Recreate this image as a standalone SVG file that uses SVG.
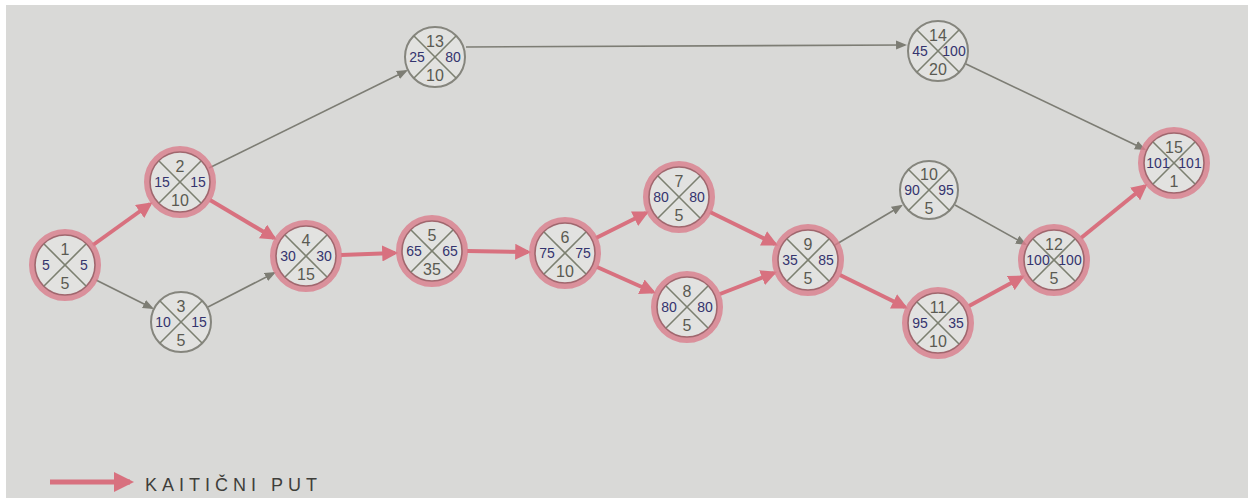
<svg xmlns="http://www.w3.org/2000/svg" width="1254" height="503" viewBox="0 0 1254 503">
<style>
.bg{fill:#d9d9d7}
.ring{fill:none;stroke:#d97d8c;stroke-width:6;opacity:.8}
.cc{fill:#e2e2e0;stroke:#a0676e;stroke-width:1.6}
.nc{fill:#e2e2e0;stroke:#85857d;stroke-width:2}
.x{stroke:#7c8070;stroke-width:1.6}
text{font-family:"Liberation Sans",Arial,sans-serif;text-anchor:middle}
.id{font-size:16px;fill:#5a5a52}
.lr{font-size:14px;fill:#34346e}
.bt{font-size:16px;fill:#5a5a52}
.crit{stroke:#d8717f;stroke-width:4;fill:none;marker-end:url(#ap)}
.norm{stroke:#7d7d74;stroke-width:1.6;fill:none;marker-end:url(#ag)}
.leg{font-size:18px;fill:#3e3e3a;text-anchor:start}
</style>
<defs>
<marker id="ap" viewBox="0 0 10 10" refX="8" refY="5" markerWidth="4" markerHeight="4" orient="auto" markerUnits="strokeWidth"><path d="M0,0 L10,5 L0,10 z" fill="#d8717f"/></marker>
<marker id="ag" viewBox="0 0 10 10" refX="8" refY="5" markerWidth="7" markerHeight="7" orient="auto" markerUnits="strokeWidth"><path d="M0,1 L10,5 L0,9 z" fill="#7d7d74"/></marker>
<g id="xc"><line class="x" x1="-21" y1="-21" x2="21" y2="21"/><line class="x" x1="21" y1="-21" x2="-21" y2="21"/></g>
</defs>
<rect x="0" y="0" width="1254" height="503" fill="#ffffff"/>
<rect class="bg" x="6" y="5" width="1242" height="493"/>

<g id="connectors">
<line class="crit" x1="93" y1="245" x2="150" y2="204"/>
<line class="crit" x1="210" y1="200" x2="274" y2="238"/>
<line class="crit" x1="341" y1="255" x2="395" y2="253"/>
<line class="crit" x1="467" y1="251" x2="528" y2="252"/>
<line class="crit" x1="596" y1="238" x2="646" y2="213"/>
<line class="crit" x1="597" y1="267" x2="653" y2="292"/>
<line class="crit" x1="710" y1="212" x2="775" y2="244"/>
<line class="crit" x1="720" y1="294" x2="774" y2="273"/>
<line class="crit" x1="840" y1="275" x2="905" y2="307"/>
<line class="crit" x1="969" y1="306" x2="1022" y2="277"/>
<line class="crit" x1="1081" y1="238" x2="1145" y2="186"/>
<line class="norm" x1="96" y1="280" x2="152" y2="308"/>
<line class="norm" x1="208" y1="307" x2="274" y2="273"/>
<line class="norm" x1="209" y1="168" x2="406" y2="71"/>
<line class="norm" x1="466" y1="47" x2="905" y2="45"/>
<line class="norm" x1="966" y1="64" x2="1144" y2="149"/>
<line class="norm" x1="835" y1="245" x2="901" y2="206"/>
<line class="norm" x1="955" y1="205" x2="1025" y2="244"/>
</g>

<g id="n1" transform="translate(65,265)"><circle class="ring" r="33"/><circle class="cc" r="30"/><use href="#xc"/><text class="id" y="-10">1</text><text class="lr" x="-19" y="5">5</text><text class="lr" x="19" y="5">5</text><text class="bt" y="24">5</text></g>
<g id="n2" transform="translate(180,182)"><circle class="ring" r="33"/><circle class="cc" r="30"/><use href="#xc"/><text class="id" y="-10">2</text><text class="lr" x="-18" y="5">15</text><text class="lr" x="18" y="5">15</text><text class="bt" y="24">10</text></g>
<g id="n3" transform="translate(181,322)"><circle class="nc" r="30"/><use href="#xc"/><text class="id" y="-10">3</text><text class="lr" x="-18" y="5">10</text><text class="lr" x="18" y="5">15</text><text class="bt" y="24">5</text></g>
<g id="n4" transform="translate(306,256)"><circle class="ring" r="33"/><circle class="cc" r="30"/><use href="#xc"/><text class="id" y="-10">4</text><text class="lr" x="-18" y="5">30</text><text class="lr" x="18" y="5">30</text><text class="bt" y="24">15</text></g>
<g id="n5" transform="translate(432,251)"><circle class="ring" r="33"/><circle class="cc" r="30"/><use href="#xc"/><text class="id" y="-10">5</text><text class="lr" x="-18" y="5">65</text><text class="lr" x="18" y="5">65</text><text class="bt" y="24">35</text></g>
<g id="n6" transform="translate(565,253)"><circle class="ring" r="33"/><circle class="cc" r="30"/><use href="#xc"/><text class="id" y="-10">6</text><text class="lr" x="-18" y="5">75</text><text class="lr" x="18" y="5">75</text><text class="bt" y="24">10</text></g>
<g id="n7" transform="translate(679,197)"><circle class="ring" r="33"/><circle class="cc" r="30"/><use href="#xc"/><text class="id" y="-10">7</text><text class="lr" x="-18" y="5">80</text><text class="lr" x="18" y="5">80</text><text class="bt" y="24">5</text></g>
<g id="n8" transform="translate(687,307)"><circle class="ring" r="33"/><circle class="cc" r="30"/><use href="#xc"/><text class="id" y="-10">8</text><text class="lr" x="-18" y="5">80</text><text class="lr" x="18" y="5">80</text><text class="bt" y="24">5</text></g>
<g id="n9" transform="translate(808,260)"><circle class="ring" r="33"/><circle class="cc" r="30"/><use href="#xc"/><text class="id" y="-10">9</text><text class="lr" x="-18" y="5">35</text><text class="lr" x="18" y="5">85</text><text class="bt" y="24">5</text></g>
<g id="n10" transform="translate(929,190)"><circle class="nc" r="29"/><use href="#xc"/><text class="id" y="-10">10</text><text class="lr" x="-17" y="5">90</text><text class="lr" x="17" y="5">95</text><text class="bt" y="24">5</text></g>
<g id="n11" transform="translate(938,323)"><circle class="ring" r="33"/><circle class="cc" r="30"/><use href="#xc"/><text class="id" y="-10">11</text><text class="lr" x="-18" y="5">95</text><text class="lr" x="18" y="5">35</text><text class="bt" y="24">10</text></g>
<g id="n12" transform="translate(1054,260)"><circle class="ring" r="33"/><circle class="cc" r="30"/><use href="#xc"/><text class="id" y="-10">12</text><text class="lr" x="-16" y="5">100</text><text class="lr" x="16" y="5">100</text><text class="bt" y="24">5</text></g>
<g id="n13" transform="translate(435,57)"><circle class="nc" r="30"/><use href="#xc"/><text class="id" y="-10">13</text><text class="lr" x="-18" y="5">25</text><text class="lr" x="18" y="5">80</text><text class="bt" y="24">10</text></g>
<g id="n14" transform="translate(938,51)"><circle class="nc" r="30"/><use href="#xc"/><text class="id" y="-10">14</text><text class="lr" x="-18" y="5">45</text><text class="lr" x="16" y="5">100</text><text class="bt" y="24">20</text></g>
<g id="n15" transform="translate(1174,163)"><circle class="ring" r="33"/><circle class="cc" r="30"/><use href="#xc"/><text class="id" y="-10">15</text><text class="lr" x="-16" y="5">101</text><text class="lr" x="16" y="5">101</text><text class="bt" y="24">1</text></g>

<g id="legend">
<line class="crit" x1="50" y1="482" x2="130" y2="482" style="stroke-width:5"/>
<text class="leg" x="145" y="491" textLength="172" lengthAdjust="spacing">KAITIČNI PUT</text>
</g>
</svg>
